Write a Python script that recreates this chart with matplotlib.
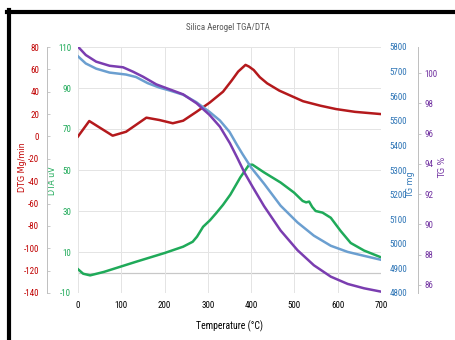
import matplotlib.pyplot as plt
from matplotlib.lines import Line2D
from matplotlib import font_manager

# values
temp_dtg = [0, 26, 49, 80, 111, 158, 188, 219, 243, 274, 304, 335, 355, 370, 387,
            395, 406, 420, 437, 465, 491, 520, 560, 596, 640, 700]
dtg = [0, 13.8, 8.2, 0.7, 4.2, 16.8, 14.7, 11.8, 14.1, 22.1, 30.2, 40, 50, 58, 64,
       62.5, 59.4, 53, 47.5, 41, 36.5, 31.5, 27.5, 24.5, 22, 20]

temp_dta = [0, 12, 28, 60, 135, 200, 243, 265, 275, 289, 305, 319, 335, 352, 375,
            395, 403, 430, 468, 499, 519, 527, 534, 541, 549, 565, 584, 607, 630,
            661, 700]
dta = [1.6, -0.6, -1.4, 0.3, 5.3, 9.5, 12.6, 15, 17.5, 22.3, 25.5, 28.9, 33, 38, 46.4,
       52.5, 52.6, 48.8, 43.9, 39, 34.9, 34.2, 34.6, 32, 30, 29.2, 26.7, 20.2, 14.4,
       10.7, 7.4]

temp_mg = [0, 18, 42, 73, 111, 134, 161, 188, 212, 243, 273, 304, 328, 350, 368,
           380, 400, 430, 468, 507, 545, 584, 623, 661, 700]
tg_mg = [5762, 5733, 5712, 5696, 5688, 5678, 5653, 5635, 5623, 5606, 5576, 5536, 5501,
         5455, 5400, 5365, 5310, 5244, 5155, 5087, 5033, 4992, 4967, 4951, 4935]

temp_pct = [0, 18, 42, 73, 104, 127, 150, 181, 212, 243, 274, 304, 328, 351, 368,
            385, 403, 430, 468, 507, 545, 584, 623, 661, 700]
tg_pct = [101.74, 101.19, 100.75, 100.48, 100.38, 100.09, 99.76, 99.25, 98.92, 98.59,
          98.0, 97.23, 96.45, 95.36, 94.4, 93.4, 92.5, 91.2, 89.6, 88.3, 87.3, 86.55,
          86.07, 85.78, 85.56]

x_ticks = [0, 100, 200, 300, 400, 500, 600, 700]
dta_ticks = [-10, 10, 30, 50, 70, 90, 110]
dtg_ticks = list(range(-140, 81, 20))
tgmg_ticks = list(range(4800, 5801, 100))
tgpct_ticks = list(range(86, 101, 2))

c_red = '#b4191c'
c_green = '#1faa59'
c_blue = '#6b9fd0'
c_purple = '#7a3db0'
lab_red = '#c00000'
lab_green = '#1faa59'
lab_blue = '#2e75b6'
lab_purple = '#7030a0'

# a narrow face for the ticks if one is there
names = {f.name for f in font_manager.fontManager.ttflist}
tick_font = 'DejaVu Sans'
fs = 5.6
for cand in ['Liberation Sans Narrow', 'Roboto Condensed', 'Open Sans Condensed',
             'DejaVu Sans Condensed']:
    if cand in names:
        tick_font = cand
        fs = 6.5
        break

plt.rcParams['font.family'] = [tick_font, 'DejaVu Sans']
plt.rcParams['axes.unicode_minus'] = False

fig = plt.figure(figsize=(4.56, 3.40), dpi=100)
ax = fig.add_axes([78 / 456, 1 - 293 / 340, 303 / 456, 246 / 340])

# frame pieces on the left and top of the picture
fig.add_artist(Line2D([9 / 456, 9 / 456], [0, 1 - 10 / 340], transform=fig.transFigure,
                      color='black', lw=3))
fig.add_artist(Line2D([7 / 456, 1], [1 - 12 / 340, 1 - 12 / 340], transform=fig.transFigure,
                      color='black', lw=3))

# host axis: DTA
ax.set_xlim(0, 700)
ax.set_ylim(-10, 110)
ax.set_xticks(x_ticks)
ax.set_yticks(dta_ticks)
ax.grid(True, color='#e4e4e4', lw=0.7)
ax.axhline(0, color='#c8c8c8', lw=0.9, zorder=1)
for s in ax.spines.values():
    s.set_visible(False)
ax.tick_params(axis='x', length=0, labelsize=fs, pad=6, colors='black')
ax.tick_params(axis='y', length=0, labelsize=fs, pad=5, colors=lab_green)
ax.set_xlabel('Temperature (°C)', fontsize=7, labelpad=7)
ax.set_ylabel('DTA uV', color=lab_green, fontsize=5.8, family='DejaVu Sans')
ax.yaxis.set_label_coords(-0.068, 0.455)

# DTG on an outer left axis
ax_dtg = ax.twinx()
ax_dtg.set_ylim(-140, 80)
ax_dtg.set_yticks(dtg_ticks)
ax_dtg.yaxis.set_ticks_position('left')
ax_dtg.yaxis.set_label_position('left')
for s in ax_dtg.spines.values():
    s.set_visible(False)
ax_dtg.spines['left'].set_visible(True)
ax_dtg.spines['left'].set_position(('outward', 22))
ax_dtg.spines['left'].set_color('#bfbfbf')
ax_dtg.spines['left'].set_linewidth(0.7)
ax_dtg.tick_params(axis='y', direction='in', length=2, width=0.6, color='#bfbfbf',
                   labelsize=fs, labelcolor=lab_red, pad=6)
ax_dtg.set_ylabel('DTG Mg/min', color=lab_red, fontsize=5.8, family='DejaVu Sans')
ax_dtg.yaxis.set_label_coords(-0.168, 0.51)

# TG mg on the right
ax_mg = ax.twinx()
ax_mg.set_ylim(4800, 5800)
ax_mg.set_yticks(tgmg_ticks)
for s in ax_mg.spines.values():
    s.set_visible(False)
ax_mg.tick_params(axis='y', length=0, labelsize=fs, labelcolor=lab_blue, pad=6)
ax_mg.set_ylabel('TG mg', color=lab_blue, fontsize=5.8, family='DejaVu Sans', rotation=90)
ax_mg.yaxis.set_label_coords(1.082, 0.44)

# TG % on an outer right axis
ax_pct = ax.twinx()
ax_pct.set_ylim(85.47, 101.72)
ax_pct.set_yticks(tgpct_ticks)
for s in ax_pct.spines.values():
    s.set_visible(False)
ax_pct.spines['right'].set_visible(True)
ax_pct.spines['right'].set_position(('outward', 27))
ax_pct.spines['right'].set_color('#bfbfbf')
ax_pct.spines['right'].set_linewidth(0.7)
ax_pct.tick_params(axis='y', direction='out', length=2, width=0.6, color='#bfbfbf',
                   labelsize=fs, labelcolor=lab_purple, pad=2)
ax_pct.set_ylabel('TG %', color=lab_purple, fontsize=5.8, family='DejaVu Sans', rotation=90)
ax_pct.yaxis.set_label_coords(1.19, 0.51)

lw = 1.8
ax_dtg.plot(temp_dtg, dtg, color=c_red, lw=lw, solid_joinstyle='round')
ax.plot(temp_dta, dta, color=c_green, lw=lw, solid_joinstyle='round', zorder=3)
ax_mg.plot(temp_mg, tg_mg, color=c_blue, lw=lw, solid_joinstyle='round')
ax_pct.plot(temp_pct, tg_pct, color=c_purple, lw=lw, solid_joinstyle='round')

fig.text(228 / 456, 1 - 27 / 340, 'Silica Aerogel TGA/DTA', ha='center', va='center',
         fontsize=6.5, color='#595959')

fig.savefig('out.png', dpi=100)
